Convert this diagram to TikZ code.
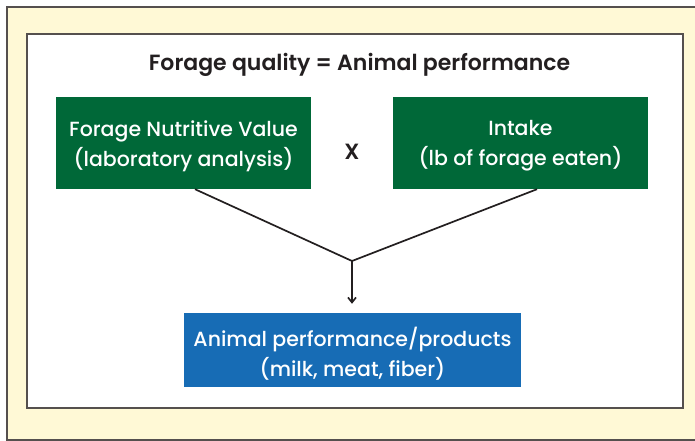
\documentclass[tikz,border=0pt]{standalone}
\usepackage{fontspec}
\setmainfont{Poppins}
\newfontfamily\medfont{Poppins Medium}
\newfontfamily\semifont{Poppins SemiBold}
\usetikzlibrary{calc,arrows.meta}
\definecolor{bgyellow}{RGB}{255,249,214}
\definecolor{frame}{RGB}{85,80,78}
\definecolor{boxgreen}{RGB}{0,104,56}
\definecolor{boxblue}{RGB}{23,108,181}
\definecolor{ink}{RGB}{35,31,32}
\begin{document}
\begin{tikzpicture}[x=1pt,y=-1pt,
  greenbox/.style={fill=boxgreen,minimum width=255pt,minimum height=92pt,inner sep=0pt},
  bluebox/.style={fill=boxblue,minimum width=337pt,minimum height=74pt,inner sep=0pt},
  boxtext/.style={text=white,align=center,inner sep=0pt,font=\medfont\fontsize{20.5}{30}\selectfont},
  headtext/.style={text=ink,font=\semifont\fontsize{22}{26}\selectfont},
  conn/.style={draw=ink,line width=1.7pt}]
\useasboundingbox (0,0) rectangle (695,441);
\fill[white] (0,0) rectangle (695,441);
\draw[fill=bgyellow,draw=frame,line width=1.3pt] (7,7) rectangle (705,440);
\draw[fill=white,draw=frame,line width=1.8pt] (27,34) rectangle (683,408);
\node[headtext] (title) at (359.5,64.5) {Forage quality = Animal performance};
\node[greenbox] (L) at (183.5,143) {};
\node[boxtext] (Lt) at (183.5,146) {Forage Nutritive Value\\(laboratory analysis)};
\node[greenbox] (R) at (520.5,143) {};
\node[boxtext] (Rt) at (520.5,146) {Intake\\(lb of forage eaten)};
\node[headtext] (x) at (352,152) {X};
\node[bluebox] (B) at (352.5,350) {};
\node[boxtext] (Bt) at (352.5,354) {Animal performance/products\\(milk, meat, fiber)};
\coordinate (J) at (352,261);
\draw[conn] ($(L.south)+(11.5,0)$) -- (J);
\draw[conn] ($(R.south)+(16.5,0)$) -- (J);
\draw[conn,-{Straight Barb[length=5pt,width=8pt]}] (J) -- ($(B.north)+(-0.5,-9)$);
\end{tikzpicture}
\end{document}
